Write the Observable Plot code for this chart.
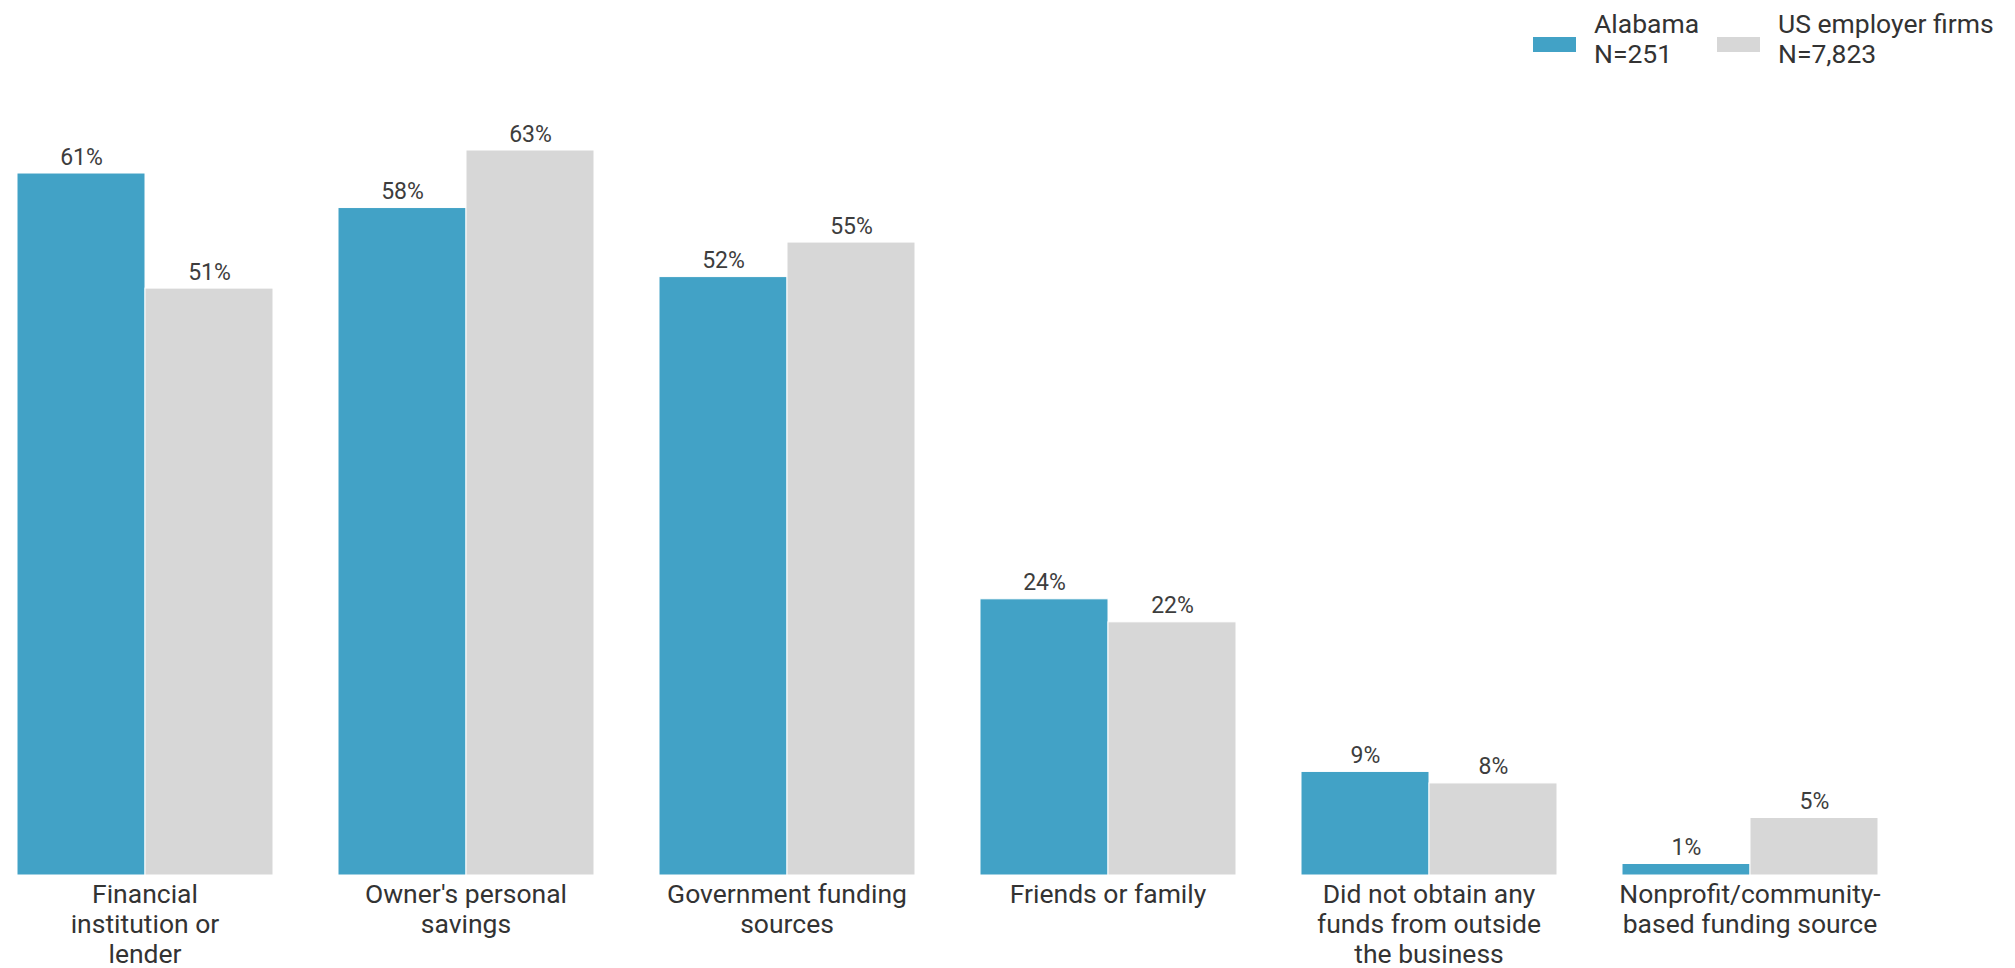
<!DOCTYPE html>
<html>
<head>
<meta charset="utf-8">
<script src="https://cdn.jsdelivr.net/npm/d3@7"></script>
<script src="https://cdn.jsdelivr.net/npm/@observablehq/plot@0.6"></script>
<style>
  html, body { margin: 0; padding: 0; background: #fff; }
  body { width: 2015px; height: 968px; position: relative; overflow: hidden; font-family: Roboto, "Noto Sans", sans-serif; }
  #legend { position: absolute; left: 0; top: 0; width: 2015px; height: 90px; pointer-events: none; }
  .sw { position: absolute; width: 43px; height: 15px; }
  .lt { position: absolute; font-size: 26.5px; line-height: 30px; color: #333; white-space: nowrap; }
  #chart { position: absolute; left: 0; top: 0; }
</style>
</head>
<body>
<div id="chart"></div>
<div id="legend"></div>
<script>
const categories = [
  "Financial\ninstitution or\nlender",
  "Owner's personal\nsavings",
  "Government funding\nsources",
  "Friends or family",
  "Did not obtain any\nfunds from outside\nthe business",
  "Nonprofit/community-\nbased funding source"
];
const seriesNames = ["Alabama", "US employer firms"];
const seriesN = ["N=251", "N=7,823"];
const alabama = [61, 58, 52, 24, 9, 1];
const usFirms = [51, 63, 55, 22, 8, 5];
const colors = ["#42a2c6", "#d7d7d7"];

const data = [];
categories.forEach((c, i) => {
  data.push({category: c, series: seriesNames[0], value: alabama[i]});
  data.push({category: c, series: seriesNames[1], value: usFirms[i]});
});

const chart = Plot.plot({
  width: 2015,
  height: 968,
  marginTop: 150,
  marginBottom: 93,
  marginLeft: 15,
  marginRight: 137,
  style: {fontFamily: "Roboto, sans-serif", background: "#fff"},
  fx: {domain: categories, paddingInner: 0.2, paddingOuter: 0, label: null},
  x: {domain: seriesNames, padding: 0, axis: null},
  y: {domain: [0, 63], axis: null},
  color: {domain: seriesNames, range: colors},
  marks: [
    Plot.barY(data, {fx: "category", x: "series", y: "value", fill: "series", stroke: "#fff", strokeWidth: 1}),
    Plot.text(data, {fx: "category", x: "series", y: "value", text: d => d.value + "%", lineAnchor: "bottom", dy: -9, fontSize: 23, fill: "#3d3d3d"}),
    Plot.axisFx({anchor: "bottom", tickSize: 0, tickPadding: 6, fontSize: 26.5, lineHeight: 1.13, label: null, color: "#333"})
  ]
});
document.getElementById("chart").appendChild(chart);

// legend
const legend = document.getElementById("legend");
const legendX = [1533, 1717];
seriesNames.forEach((s, i) => {
  const sw = document.createElement("div");
  sw.className = "sw";
  sw.style.left = legendX[i] + "px";
  sw.style.top = "37px";
  sw.style.background = colors[i];
  legend.appendChild(sw);
  const t = document.createElement("div");
  t.className = "lt";
  t.style.left = (legendX[i] + 61) + "px";
  t.style.top = "9px";
  t.innerHTML = s + "<br>" + seriesN[i];
  legend.appendChild(t);
});
</script>
</body>
</html>
